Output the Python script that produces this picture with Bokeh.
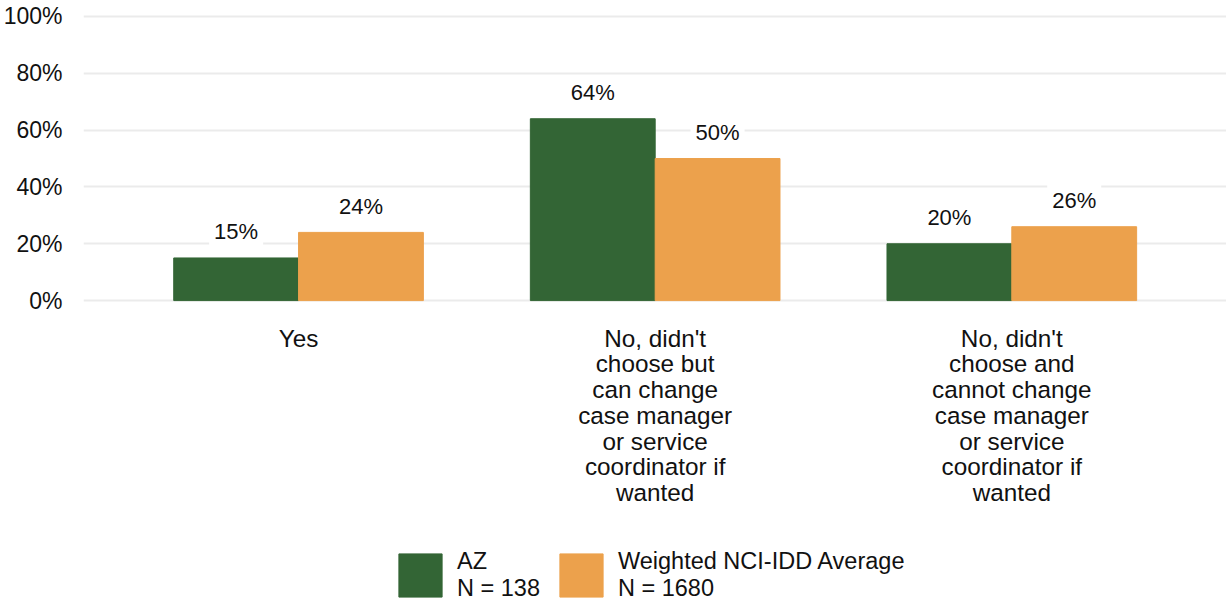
from bokeh.plotting import figure
from bokeh.models import (ColumnDataSource, Range1d, FixedTicker, PrintfTickFormatter,
                          Legend, LegendItem)
from bokeh.layouts import column
from bokeh.core.properties import value
from bokeh.transform import dodge
from bokeh.embed import file_html
from bokeh.resources import INLINE

categories = [
    "Yes",
    "No, didn't\nchoose but\ncan change\ncase manager\nor service\ncoordinator if\nwanted",
    "No, didn't\nchoose and\ncannot change\ncase manager\nor service\ncoordinator if\nwanted",
]
az_values = [15, 64, 20]
avg_values = [24, 50, 26]
series_labels = ["AZ\nN = 138", "Weighted NCI-IDD Average\nN = 1680"]
y_ticks = [0, 20, 40, 60, 80, 100]

GREEN = "#336535"
ORANGE = "#ECA14C"
FONT = "Liberation Sans"
TXT = "#111111"

xs = list(range(1, len(categories) + 1))
src = ColumnDataSource(dict(
    x=xs,
    az=az_values,
    avg=avg_values,
    az_lbl=[f"{v}%" for v in az_values],
    avg_lbl=[f"{v}%" for v in avg_values],
    cat=categories,
))

W = 1226
H1 = 314
H2 = 288
xr = Range1d(0.397, 3.602)

p = figure(width=W, height=H1, output_backend="svg", toolbar_location=None,
           x_range=xr, y_range=Range1d(-4.9, 102.1),
           min_border_left=81, min_border_right=0, min_border_top=10, min_border_bottom=0)
p.outline_line_color = None
p.background_fill_color = "white"

p.vbar(x=dodge("x", -0.175, range=xr), top="az", width=0.35, bottom=0,
       source=src, fill_color=GREEN, line_color=GREEN)
p.vbar(x=dodge("x", 0.175, range=xr), top="avg", width=0.35, bottom=0,
       source=src, fill_color=ORANGE, line_color=ORANGE)

for col, lbl, off in (("az", "az_lbl", -0.175), ("avg", "avg_lbl", 0.175)):
    p.text(x=dodge("x", off, range=xr), y=col, text=lbl, source=src,
           y_offset=-26, text_align="center", text_baseline="middle",
           text_font=value(FONT), text_font_size="22px", text_color=TXT,
           background_fill_color="white", padding=5)

# y axis
p.yaxis.ticker = FixedTicker(ticks=y_ticks)
p.yaxis.formatter = PrintfTickFormatter(format="%d%%")
p.yaxis.axis_line_color = None
p.yaxis.major_tick_line_color = None
p.yaxis.minor_tick_line_color = None
p.yaxis.major_label_text_font = FONT
p.yaxis.major_label_text_font_size = "23px"
p.yaxis.major_label_text_color = TXT
p.yaxis.major_label_standoff = 15

p.xaxis.visible = False
p.xgrid.grid_line_color = None
p.ygrid.grid_line_color = "#EBEBEB"
p.ygrid.grid_line_width = 2

# lower figure: category labels + legend
lg = figure(width=W, height=H2, output_backend="svg", toolbar_location=None,
            x_range=xr, y_range=Range1d(0, H2),
            min_border_left=81, min_border_right=0, min_border_top=0, min_border_bottom=0)
lg.axis.visible = False
lg.grid.visible = False
lg.outline_line_color = None

lg.text(x="x", y=H2 - 10, text="cat", source=src, text_align="center",
        text_baseline="top", text_font=value(FONT), text_font_size="24.3px",
        text_color=TXT, text_line_height=0.955)

dummy = ColumnDataSource(dict(x=[-10], top=[-50], bottom=[-60]))
r1 = lg.vbar(x="x", top="top", bottom="bottom", width=0.1, source=dummy,
             fill_color=GREEN, line_color=GREEN)
r2 = lg.vbar(x="x", top="top", bottom="bottom", width=0.1, source=dummy,
             fill_color=ORANGE, line_color=ORANGE)
legend = Legend(items=[LegendItem(label=series_labels[0], renderers=[r1]),
                       LegendItem(label=series_labels[1], renderers=[r2])],
                orientation="horizontal", location=(310, 0),
                glyph_width=54, glyph_height=54, label_text_font=FONT,
                label_text_font_size="23.5px", label_text_color=TXT,
                label_text_line_height=0.89,
                label_standoff=10, spacing=14, padding=0, margin=0,
                border_line_color=None, background_fill_alpha=0)
lg.add_layout(legend, "center")

layout = column(p, lg, spacing=0)
open("out.html", "w").write(file_html(layout, INLINE))
